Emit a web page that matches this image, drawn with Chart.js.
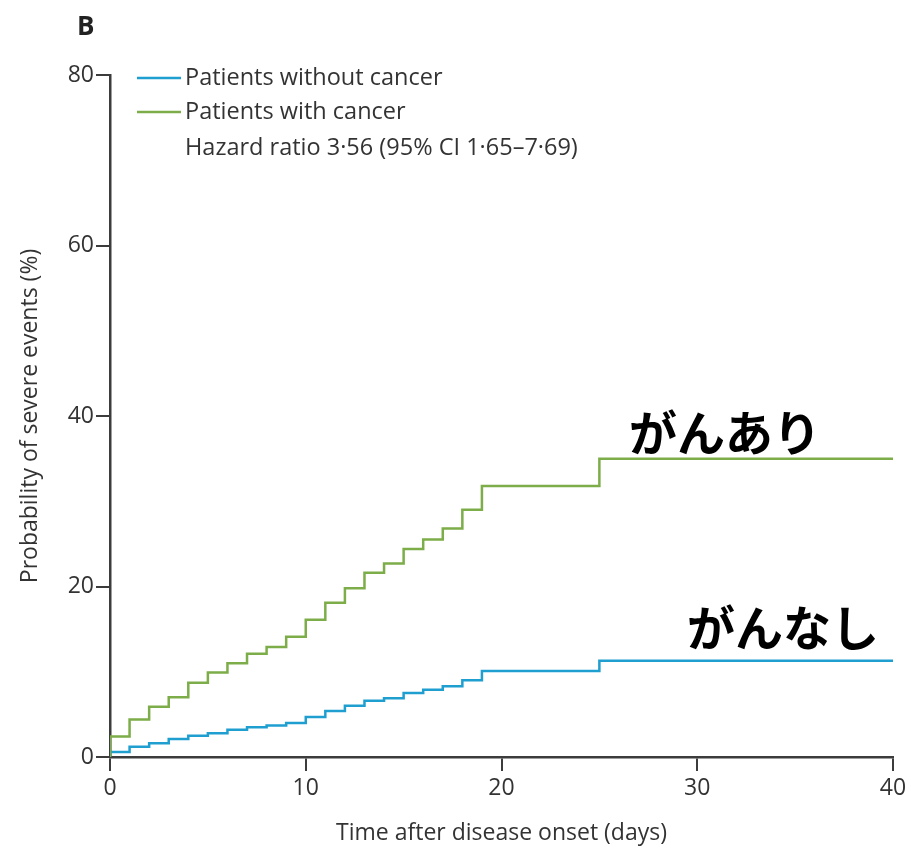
<!DOCTYPE html>
<html>
<head>
<meta charset="utf-8">
<script src="https://cdn.jsdelivr.net/npm/chart.js@4.4.0/dist/chart.umd.min.js"></script>
<style>
	html, body { margin: 0; padding: 0; background: #fff; }
	#wrap { position: relative; width: 911px; height: 849px; }
</style>
</head>
<body>
<div id="wrap"><canvas id="kmChart"></canvas></div>
<script>
// step times (days) and cumulative probability of severe events (%)
var days = [0, 0, 1, 2, 3, 4, 5, 6, 7, 8, 9, 10, 11, 12, 13, 14, 15, 16, 17, 18, 19, 25, 40];
var withoutCancer = [0, 0.6, 1.2, 1.6, 2.1, 2.5, 2.8, 3.2, 3.5, 3.7, 4.0, 4.7, 5.4, 6.0, 6.6, 6.9, 7.5, 7.9, 8.3, 9.0, 10.1, 11.3, 11.3];
var withCancer = [0, 2.4, 4.4, 5.9, 7.0, 8.7, 9.9, 11.0, 12.1, 12.9, 14.1, 16.1, 18.1, 19.8, 21.6, 22.7, 24.4, 25.5, 26.8, 29.0, 31.8, 35.0, 35.0];

var seriesLabels = ["Patients without cancer", "Patients with cancer"];
var hazardText = "Hazard ratio 3·56 (95% CI 1·65–7·69)";
var yTicks = [0, 20, 40, 60, 80];
var xTicks = [0, 10, 20, 30, 40];

var blue = "#1f9fd0";
var green = "#7cad48";
var axisColor = "#3c3c3c";
var textColor = "#333333";
var fontFamily = "'Open Sans', Lato, sans-serif";

function toPoints(xs, ys) {
	return xs.map(function (x, i) {
		return { x: x, y: ys[i] };
	});
}

// legend block, panel letter and the japanese labels
var overlayPlugin = {
	id: "overlay",
	afterDraw: function (chart) {
		var ctx = chart.ctx;
		ctx.save();

		ctx.fillStyle = "#222";
		ctx.font = "bold 26px " + fontFamily;
		ctx.textAlign = "left";
		ctx.textBaseline = "middle";
		ctx.fillText("B", 77, 28);

		var colors = [blue, green];
		ctx.font = "23.5px " + fontFamily;
		ctx.lineWidth = 2.5;
		for (var i = 0; i < 2; i++) {
			var y = 78 + i * 34;
			ctx.strokeStyle = colors[i];
			ctx.beginPath();
			ctx.moveTo(137, y);
			ctx.lineTo(181, y);
			ctx.stroke();
			ctx.fillStyle = textColor;
			ctx.fillText(seriesLabels[i], 185, y);
		}
		ctx.fillText(hazardText, 185, 148);

		ctx.fillStyle = "#000";
		ctx.font = "bold 48px 'Noto Sans CJK JP', sans-serif";
		ctx.textAlign = "center";
		ctx.fillText("がんあり", 725, 433);
		ctx.fillText("がんなし", 783, 628);
		ctx.restore();
	},
};

var ctx = document.getElementById("kmChart");
var kmChart = new Chart(ctx, {
	type: "line",
	data: {
		datasets: [
			{
				label: seriesLabels[1],
				data: toPoints(days, withCancer),
				borderColor: green,
				borderWidth: 2.5,
				stepped: true,
				pointRadius: 0,
				fill: false,
			},
			{
				label: seriesLabels[0],
				data: toPoints(days, withoutCancer),
				borderColor: blue,
				borderWidth: 2.5,
				stepped: true,
				pointRadius: 0,
				fill: false,
			},
		],
	},
	options: {
		responsive: true,
		maintainAspectRatio: false,
		animation: false,
		layout: {
			padding: { top: 75, right: 18, left: 0, bottom: 0 },
		},
		plugins: {
			legend: { display: false },
			tooltip: { enabled: false },
		},
		scales: {
			x: {
				type: "linear",
				min: 0,
				max: 40,
				afterBuildTicks: function (scale) {
					scale.ticks = xTicks.map(function (v) { return { value: v }; });
				},
				afterFit: function (scale) {
					scale.height = 92;
				},
				border: { color: axisColor, width: 2.5 },
				grid: { drawOnChartArea: false, drawTicks: true, tickLength: 14, color: axisColor, lineWidth: 2 },
				ticks: { color: textColor, padding: 4, font: { family: fontFamily, size: 23 }, maxRotation: 0 },
				title: {
					display: true,
					text: "Time after disease onset (days)",
					color: textColor,
					font: { family: fontFamily, size: 23 },
					padding: { top: 0, bottom: 2 },
				},
			},
			y: {
				min: 0,
				max: 80,
				afterBuildTicks: function (scale) {
					scale.ticks = yTicks.map(function (v) { return { value: v }; });
				},
				afterFit: function (scale) {
					scale.width = 110;
				},
				border: { color: axisColor, width: 2.5 },
				grid: { drawOnChartArea: false, drawTicks: true, tickLength: 14, color: axisColor, lineWidth: 2 },
				ticks: { color: textColor, padding: 2, font: { family: fontFamily, size: 23 } },
				title: {
					display: true,
					text: "Probability of severe events (%)",
					color: textColor,
					font: { family: fontFamily, size: 23 },
					padding: { top: 17, bottom: 0 },
				},
			},
		},
	},
	plugins: [overlayPlugin],
});
</script>
</body>
</html>
